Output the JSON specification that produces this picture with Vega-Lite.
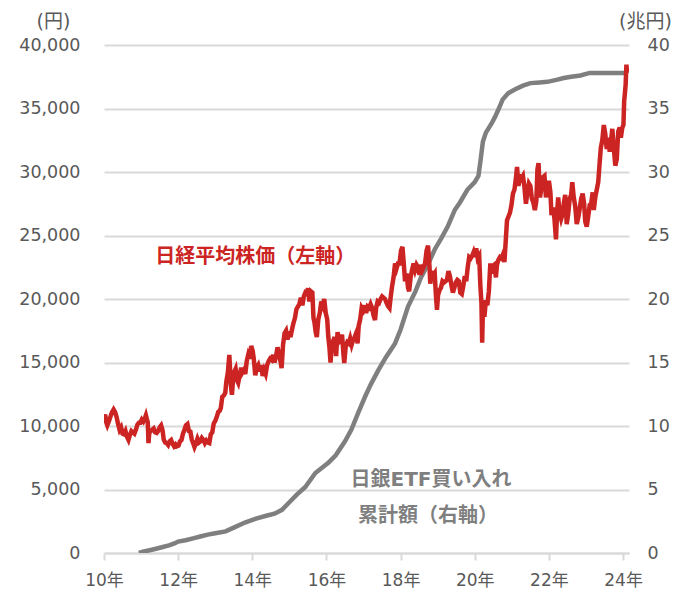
{
  "$schema": "https://vega.github.io/schema/vega-lite/v6.json",
  "width": 525,
  "height": 508,
  "autosize": "none",
  "padding": {"left": 104, "top": 45, "right": 54, "bottom": 43},
  "background": "white",
  "config": {
    "font": "'DejaVu Sans', 'Noto Sans CJK JP', sans-serif",
    "view": {"stroke": null}
  },
  "datasets": {
    "nikkei": [
      {"t":2010.00,"v":10650},{"t":2010.03,"v":10900},{"t":2010.06,"v":10300},{"t":2010.09,"v":10050},{"t":2010.13,"v":10350},{"t":2010.17,"v":10700},{"t":2010.21,"v":11050},{"t":2010.26,"v":11300},{"t":2010.30,"v":11100},{"t":2010.34,"v":10700},{"t":2010.38,"v":10150},{"t":2010.42,"v":9700},{"t":2010.46,"v":9900},{"t":2010.50,"v":9400},{"t":2010.54,"v":9350},{"t":2010.58,"v":9600},{"t":2010.62,"v":9150},{"t":2010.66,"v":8900},{"t":2010.70,"v":9300},{"t":2010.74,"v":9600},{"t":2010.78,"v":9500},{"t":2010.82,"v":9400},{"t":2010.86,"v":9700},{"t":2010.90,"v":10100},{"t":2010.94,"v":10250},{"t":2010.98,"v":10250},
      {"t":2011.02,"v":10500},{"t":2011.06,"v":10350},{"t":2011.10,"v":10600},{"t":2011.13,"v":10850},{"t":2011.16,"v":10500},{"t":2011.18,"v":10300},{"t":2011.20,"v":8650},{"t":2011.22,"v":9450},{"t":2011.26,"v":9600},{"t":2011.30,"v":9700},{"t":2011.34,"v":9800},{"t":2011.38,"v":9500},{"t":2011.42,"v":9450},{"t":2011.46,"v":9600},{"t":2011.50,"v":9900},{"t":2011.54,"v":10050},{"t":2011.58,"v":9650},{"t":2011.61,"v":8950},{"t":2011.65,"v":8700},{"t":2011.69,"v":8650},{"t":2011.73,"v":8500},{"t":2011.77,"v":8800},{"t":2011.81,"v":8900},{"t":2011.85,"v":8600},{"t":2011.89,"v":8400},{"t":2011.93,"v":8550},{"t":2011.97,"v":8400},
      {"t":2012.01,"v":8450},{"t":2012.05,"v":8800},{"t":2012.09,"v":8900},{"t":2012.13,"v":9400},{"t":2012.17,"v":9700},{"t":2012.21,"v":10050},{"t":2012.25,"v":10150},{"t":2012.29,"v":9600},{"t":2012.33,"v":9550},{"t":2012.37,"v":8900},{"t":2012.41,"v":8600},{"t":2012.44,"v":8350},{"t":2012.48,"v":8650},{"t":2012.52,"v":9000},{"t":2012.56,"v":8700},{"t":2012.60,"v":8800},{"t":2012.64,"v":9050},{"t":2012.68,"v":8900},{"t":2012.72,"v":8650},{"t":2012.76,"v":8850},{"t":2012.80,"v":8700},{"t":2012.84,"v":8650},{"t":2012.88,"v":9350},{"t":2012.92,"v":9500},{"t":2012.96,"v":10200},
      {"t":2013.00,"v":10400},{"t":2013.04,"v":10700},{"t":2013.08,"v":11100},{"t":2013.12,"v":11200},{"t":2013.15,"v":11400},{"t":2013.19,"v":12300},{"t":2013.23,"v":12400},{"t":2013.27,"v":12600},{"t":2013.30,"v":13500},{"t":2013.34,"v":14200},{"t":2013.38,"v":15600},{"t":2013.40,"v":14500},{"t":2013.42,"v":13300},{"t":2013.45,"v":12450},{"t":2013.48,"v":13600},{"t":2013.52,"v":14300},{"t":2013.55,"v":14500},{"t":2013.59,"v":13600},{"t":2013.62,"v":13400},{"t":2013.66,"v":14000},{"t":2013.70,"v":14600},{"t":2013.73,"v":14200},{"t":2013.77,"v":14400},{"t":2013.81,"v":14100},{"t":2013.85,"v":15100},{"t":2013.89,"v":15600},{"t":2013.93,"v":15300},{"t":2013.97,"v":16300},
      {"t":2014.01,"v":15900},{"t":2014.04,"v":15300},{"t":2014.08,"v":14000},{"t":2014.12,"v":14600},{"t":2014.16,"v":14800},{"t":2014.20,"v":14300},{"t":2014.24,"v":14800},{"t":2014.28,"v":13950},{"t":2014.32,"v":14400},{"t":2014.36,"v":14100},{"t":2014.40,"v":14800},{"t":2014.44,"v":15100},{"t":2014.48,"v":15300},{"t":2014.52,"v":15200},{"t":2014.56,"v":15600},{"t":2014.60,"v":15000},{"t":2014.64,"v":15500},{"t":2014.68,"v":16200},{"t":2014.72,"v":15700},{"t":2014.76,"v":15100},{"t":2014.79,"v":14550},{"t":2014.83,"v":16400},{"t":2014.87,"v":17300},{"t":2014.91,"v":17500},{"t":2014.95,"v":16800},{"t":2014.99,"v":17450},
      {"t":2015.03,"v":17000},{"t":2015.07,"v":17600},{"t":2015.11,"v":18100},{"t":2015.15,"v":18500},{"t":2015.19,"v":19200},{"t":2015.23,"v":19400},{"t":2015.27,"v":19600},{"t":2015.31,"v":20100},{"t":2015.35,"v":19500},{"t":2015.39,"v":20200},{"t":2015.43,"v":20500},{"t":2015.47,"v":20400},{"t":2015.50,"v":20850},{"t":2015.54,"v":19800},{"t":2015.58,"v":20600},{"t":2015.62,"v":20500},{"t":2015.65,"v":18500},{"t":2015.68,"v":18100},{"t":2015.71,"v":17400},{"t":2015.74,"v":17000},{"t":2015.78,"v":18400},{"t":2015.82,"v":18900},{"t":2015.86,"v":19800},{"t":2015.90,"v":19500},{"t":2015.94,"v":20000},{"t":2015.98,"v":18900},
      {"t":2016.02,"v":18400},{"t":2016.05,"v":17000},{"t":2016.08,"v":16200},{"t":2016.11,"v":15000},{"t":2016.14,"v":16300},{"t":2016.18,"v":16700},{"t":2016.22,"v":17000},{"t":2016.26,"v":15500},{"t":2016.30,"v":17400},{"t":2016.34,"v":16600},{"t":2016.38,"v":16700},{"t":2016.42,"v":17200},{"t":2016.46,"v":15600},{"t":2016.48,"v":14950},{"t":2016.52,"v":16300},{"t":2016.56,"v":16600},{"t":2016.60,"v":16500},{"t":2016.64,"v":16900},{"t":2016.68,"v":16400},{"t":2016.72,"v":16800},{"t":2016.76,"v":17000},{"t":2016.80,"v":17300},{"t":2016.84,"v":16500},{"t":2016.87,"v":17900},{"t":2016.91,"v":18400},{"t":2016.95,"v":19300},{"t":2016.99,"v":19100},
      {"t":2017.03,"v":19500},{"t":2017.07,"v":18900},{"t":2017.11,"v":19400},{"t":2017.15,"v":19300},{"t":2017.19,"v":19600},{"t":2017.23,"v":19300},{"t":2017.27,"v":18700},{"t":2017.31,"v":18350},{"t":2017.34,"v":19300},{"t":2017.38,"v":19800},{"t":2017.42,"v":19700},{"t":2017.46,"v":20000},{"t":2017.50,"v":20200},{"t":2017.54,"v":20100},{"t":2017.58,"v":20000},{"t":2017.62,"v":19700},{"t":2017.66,"v":19450},{"t":2017.70,"v":19300},{"t":2017.73,"v":20100},{"t":2017.77,"v":21000},{"t":2017.81,"v":21700},{"t":2017.85,"v":22800},{"t":2017.89,"v":22400},{"t":2017.93,"v":22800},{"t":2017.97,"v":22800},
      {"t":2018.01,"v":23800},{"t":2018.05,"v":24100},{"t":2018.08,"v":23000},{"t":2018.12,"v":21400},{"t":2018.16,"v":22000},{"t":2018.20,"v":20900},{"t":2018.23,"v":20600},{"t":2018.27,"v":21700},{"t":2018.31,"v":22300},{"t":2018.35,"v":22800},{"t":2018.39,"v":22300},{"t":2018.43,"v":22700},{"t":2018.47,"v":22500},{"t":2018.51,"v":21900},{"t":2018.55,"v":22700},{"t":2018.59,"v":22300},{"t":2018.62,"v":22500},{"t":2018.66,"v":22800},{"t":2018.70,"v":23800},{"t":2018.74,"v":24200},{"t":2018.78,"v":22500},{"t":2018.80,"v":21200},{"t":2018.84,"v":22200},{"t":2018.88,"v":21800},{"t":2018.92,"v":22000},{"t":2018.95,"v":20400},{"t":2018.98,"v":19150},
      {"t":2019.01,"v":20300},{"t":2019.05,"v":20700},{"t":2019.09,"v":20900},{"t":2019.13,"v":21400},{"t":2019.17,"v":21300},{"t":2019.21,"v":21400},{"t":2019.25,"v":21500},{"t":2019.29,"v":22200},{"t":2019.33,"v":21800},{"t":2019.37,"v":21100},{"t":2019.41,"v":20500},{"t":2019.45,"v":20900},{"t":2019.49,"v":21300},{"t":2019.53,"v":21500},{"t":2019.57,"v":21400},{"t":2019.61,"v":20500},{"t":2019.65,"v":20400},{"t":2019.69,"v":21000},{"t":2019.73,"v":21800},{"t":2019.77,"v":21400},{"t":2019.81,"v":22500},{"t":2019.85,"v":23300},{"t":2019.89,"v":23200},{"t":2019.93,"v":23400},{"t":2019.97,"v":23700},
      {"t":2020.01,"v":23300},{"t":2020.04,"v":24000},{"t":2020.08,"v":23200},{"t":2020.12,"v":23400},{"t":2020.15,"v":21100},{"t":2020.18,"v":19700},{"t":2020.20,"v":16550},{"t":2020.22,"v":19400},{"t":2020.26,"v":18600},{"t":2020.30,"v":19900},{"t":2020.34,"v":19500},{"t":2020.38,"v":20600},{"t":2020.42,"v":22800},{"t":2020.45,"v":22000},{"t":2020.49,"v":22600},{"t":2020.53,"v":22700},{"t":2020.57,"v":21700},{"t":2020.60,"v":22700},{"t":2020.64,"v":23100},{"t":2020.68,"v":23300},{"t":2020.72,"v":23200},{"t":2020.76,"v":23500},{"t":2020.80,"v":22900},{"t":2020.84,"v":24800},{"t":2020.87,"v":26200},{"t":2020.91,"v":26500},{"t":2020.95,"v":26800},{"t":2020.99,"v":27400},
      {"t":2021.03,"v":28300},{"t":2021.07,"v":28600},{"t":2021.11,"v":29500},{"t":2021.14,"v":30400},{"t":2021.18,"v":28900},{"t":2021.22,"v":29800},{"t":2021.26,"v":29500},{"t":2021.30,"v":29700},{"t":2021.34,"v":28800},{"t":2021.38,"v":27500},{"t":2021.42,"v":28400},{"t":2021.46,"v":29100},{"t":2021.50,"v":28900},{"t":2021.54,"v":27900},{"t":2021.58,"v":27600},{"t":2021.62,"v":27000},{"t":2021.66,"v":27700},{"t":2021.69,"v":30200},{"t":2021.72,"v":30700},{"t":2021.76,"v":28000},{"t":2021.80,"v":28800},{"t":2021.84,"v":29600},{"t":2021.88,"v":29700},{"t":2021.92,"v":28000},{"t":2021.96,"v":28800},
      {"t":2022.00,"v":29300},{"t":2022.04,"v":28400},{"t":2022.07,"v":26600},{"t":2022.11,"v":27200},{"t":2022.15,"v":26300},{"t":2022.19,"v":24700},{"t":2022.22,"v":26800},{"t":2022.25,"v":28000},{"t":2022.29,"v":26800},{"t":2022.33,"v":26300},{"t":2022.37,"v":26700},{"t":2022.41,"v":27700},{"t":2022.44,"v":28200},{"t":2022.48,"v":25900},{"t":2022.52,"v":26700},{"t":2022.56,"v":27900},{"t":2022.60,"v":28200},{"t":2022.63,"v":29200},{"t":2022.67,"v":28000},{"t":2022.71,"v":27300},{"t":2022.75,"v":25900},{"t":2022.79,"v":26400},{"t":2022.83,"v":27100},{"t":2022.87,"v":27900},{"t":2022.91,"v":28300},{"t":2022.95,"v":27500},{"t":2022.98,"v":26100},
      {"t":2023.02,"v":25700},{"t":2023.06,"v":26500},{"t":2023.10,"v":27400},{"t":2023.14,"v":27500},{"t":2023.18,"v":28400},{"t":2023.21,"v":27000},{"t":2023.25,"v":28000},{"t":2023.29,"v":28600},{"t":2023.33,"v":29200},{"t":2023.37,"v":30800},{"t":2023.40,"v":31900},{"t":2023.44,"v":32500},{"t":2023.48,"v":33700},{"t":2023.52,"v":33000},{"t":2023.56,"v":31800},{"t":2023.60,"v":32700},{"t":2023.64,"v":31600},{"t":2023.68,"v":32600},{"t":2023.71,"v":33400},{"t":2023.75,"v":31900},{"t":2023.79,"v":30500},{"t":2023.83,"v":31000},{"t":2023.87,"v":33200},{"t":2023.91,"v":33500},{"t":2023.94,"v":32700},{"t":2023.98,"v":33500},
      {"t":2024.01,"v":33700},{"t":2024.03,"v":35600},{"t":2024.05,"v":36200},{"t":2024.07,"v":36900},{"t":2024.09,"v":38450},{"t":2024.11,"v":37800}
    ],
    "etf": [
      {"t":2010.94,"e":0},{"t":2011.05,"e":0.1},{"t":2011.20,"e":0.2},{"t":2011.35,"e":0.3},{"t":2011.56,"e":0.45},{"t":2011.75,"e":0.6},{"t":2011.90,"e":0.75},{"t":2012.0,"e":0.9},{"t":2012.2,"e":1.0},{"t":2012.4,"e":1.15},{"t":2012.6,"e":1.3},{"t":2012.8,"e":1.45},{"t":2013.0,"e":1.55},{"t":2013.28,"e":1.7},{"t":2013.5,"e":2.0},{"t":2013.8,"e":2.4},{"t":2014.1,"e":2.7},{"t":2014.4,"e":2.95},{"t":2014.6,"e":3.1},{"t":2014.8,"e":3.4},{"t":2015.0,"e":4.0},{"t":2015.2,"e":4.6},{"t":2015.43,"e":5.2},{"t":2015.7,"e":6.3},{"t":2016.05,"e":7.1},{"t":2016.25,"e":7.7},{"t":2016.5,"e":8.8},{"t":2016.67,"e":9.7},{"t":2016.85,"e":11.0},{"t":2017.04,"e":12.3},{"t":2017.2,"e":13.3},{"t":2017.4,"e":14.4},{"t":2017.6,"e":15.4},{"t":2017.85,"e":16.5},{"t":2018.0,"e":17.6},{"t":2018.2,"e":19.4},{"t":2018.4,"e":20.6},{"t":2018.55,"e":21.7},{"t":2018.75,"e":22.8},{"t":2018.92,"e":23.9},{"t":2019.1,"e":24.8},{"t":2019.27,"e":25.7},{"t":2019.46,"e":27.0},{"t":2019.6,"e":27.6},{"t":2019.8,"e":28.6},{"t":2020.0,"e":29.2},{"t":2020.1,"e":29.7},{"t":2020.16,"e":31.0},{"t":2020.22,"e":32.4},{"t":2020.3,"e":33.1},{"t":2020.45,"e":33.8},{"t":2020.54,"e":34.3},{"t":2020.65,"e":35.0},{"t":2020.75,"e":35.7},{"t":2020.9,"e":36.2},{"t":2021.08,"e":36.5},{"t":2021.3,"e":36.8},{"t":2021.5,"e":37.0},{"t":2021.75,"e":37.05},{"t":2021.96,"e":37.1},{"t":2022.2,"e":37.25},{"t":2022.4,"e":37.4},{"t":2022.6,"e":37.5},{"t":2022.85,"e":37.6},{"t":2023.1,"e":37.8},{"t":2024.12,"e":37.8}
    ],
    "ann": [
      {"t":2014.08,"v":23300,"s":"日経平均株価（左軸）","g":"nk"},
      {"t":2018.82,"v":5750,"s":"日銀ETF買い入れ","g":"etf"},
      {"t":2018.74,"v":2900,"s":"累計額（右軸）","g":"etf"}
    ]
  },
  "encoding": {
    "x": {
      "field": "t", "type": "quantitative",
      "scale": {"domain": [2010, 2024.16], "nice": false, "zero": false},
      "axis": {
        "values": [2010,2012,2014,2016,2018,2020,2022,2024],
        "labelExpr": "substring(toString(datum.value), 2) + '年'",
        "labelFlush": false, "labelOverlap": false, "labelBound": false,
        "grid": false, "domainColor": "#D9D9D9", "domainWidth": 2,
        "tickColor": "#D9D9D9", "tickWidth": 2, "tickSize": 7,
        "labelPadding": 12, "labelFontSize": 17, "labelColor": "#595959",
        "title": null
      }
    }
  },
  "layer": [
    {
      "data": {"name": "etf"},
      "mark": {"type": "line", "color": "#7F7F7F", "strokeWidth": 4.5, "clip": true},
      "encoding": {
        "y": {
          "field": "e", "type": "quantitative",
          "scale": {"domain": [0, 40], "nice": false},
          "axis": {
            "orient": "right", "values": [0,5,10,15,20,25,30,35,40], "format": "d",
            "grid": false, "domain": false, "ticks": false,
            "labelPadding": 18, "labelFontSize": 17.5, "labelColor": "#595959",
            "title": "(兆円)", "titleAngle": 0, "titleX": 16, "titleY": -24,
            "titleAlign": "center", "titleBaseline": "middle",
            "titleFontSize": 19, "titleFontWeight": "normal", "titleColor": "#595959"
          }
        }
      }
    },
    {
      "encoding": {
        "y": {
          "field": "v", "type": "quantitative",
          "scale": {"domain": [0, 40000], "nice": false},
          "axis": {
            "orient": "left", "values": [0,5000,10000,15000,20000,25000,30000,35000,40000], "format": ",d",
            "grid": true, "gridColor": "#D9D9D9", "gridWidth": 2,
            "domain": false, "ticks": false,
            "labelPadding": 24, "labelFontSize": 17.5, "labelColor": "#595959",
            "title": "(円)", "titleAngle": 0, "titleX": -51, "titleY": -24,
            "titleAlign": "center", "titleBaseline": "middle",
            "titleFontSize": 19, "titleFontWeight": "normal", "titleColor": "#595959"
          }
        }
      },
      "layer": [
        {
          "data": {"name": "nikkei"},
          "mark": {"type": "line", "color": "#CC2323", "strokeWidth": 4.5, "clip": true}
        },
        {
          "data": {"name": "ann"},
          "transform": [{"filter": "datum.g == 'nk'"}],
          "mark": {"type": "text", "color": "#CC2323", "fontSize": 20, "fontWeight": "bold", "align": "center", "baseline": "middle"},
          "encoding": {"text": {"field": "s"}}
        },
        {
          "data": {"name": "ann"},
          "transform": [{"filter": "datum.g == 'etf'"}],
          "mark": {"type": "text", "color": "#7F7F7F", "fontSize": 20, "fontWeight": "bold", "align": "center", "baseline": "middle"},
          "encoding": {"text": {"field": "s"}}
        }
      ]
    }
  ],
  "resolve": {"scale": {"y": "independent"}}
}
